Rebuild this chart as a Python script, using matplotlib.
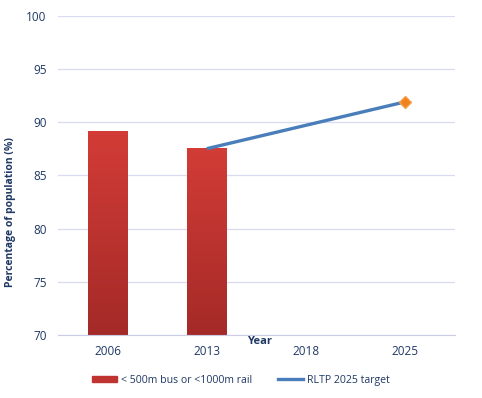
import numpy as np
import matplotlib.pyplot as plt
from matplotlib.patches import Patch
from matplotlib.lines import Line2D
from matplotlib.colors import LinearSegmentedColormap

years = ["2006", "2013", "2018", "2025"]
coverage = [89.2, 87.6, np.nan, np.nan]
target = [np.nan, 87.5, 89.7, 91.9]

navy = "#1f3864"
plt.rcParams["font.family"] = ["Open Sans", "DejaVu Sans"]

fig = plt.figure(figsize=(4.82, 3.98), dpi=100)
ax = fig.add_axes([0.120, 0.158, 0.824, 0.803])

x = np.arange(len(years))
ymin, ymax = 70, 100

# bars with a vertical gradient (dark at the bottom)
grad = np.linspace(0, 1, 256).reshape(-1, 1)
cmap = LinearSegmentedColormap.from_list("bar", ["#a42a27", "#d33c37"])
bars = ax.bar(x, coverage, width=0.4, bottom=0, color="none", zorder=2)
for b, v in zip(bars, coverage):
    if np.isnan(v):
        continue
    x0 = b.get_x()
    im = ax.imshow(grad, cmap=cmap, aspect="auto", origin="lower",
                   extent=[x0, x0 + b.get_width(), ymin, v], zorder=2)
    im.set_clip_path(b)

ax.plot(x, target, color="#4a7ebb", lw=2.4, zorder=3, solid_capstyle="butt")
ax.plot(x[-1], target[-1], marker="D", ms=6, color="#f0821e",
        markeredgecolor="#f5a04a", zorder=4)

ax.set_xlim(-0.5, 3.5)
ax.set_ylim(ymin, ymax)
ax.set_yticks(range(70, 101, 5))
ax.set_xticks(x)
ax.set_xticklabels(years)
ax.grid(axis="y", color="#d9dcef", lw=0.9, zorder=0)
ax.set_axisbelow(True)
for s in ["top", "right", "left"]:
    ax.spines[s].set_visible(False)
ax.spines["bottom"].set_color("#c9cde6")
ax.tick_params(length=0, colors=navy, labelsize=8.5)
ax.tick_params(axis="x", pad=7)
ax.tick_params(axis="y", pad=8)

ax.set_ylabel("Percentage of population (%)", color=navy, fontsize=7.5,
              fontweight="bold")
ax.yaxis.set_label_coords(-0.105, 0.385)
ax.text(0.509, -0.002, "Year", transform=ax.transAxes, ha="center", va="top",
        color=navy, fontsize=8, fontweight="bold")

handles = [Patch(color="#bf3330", label="< 500m bus or <1000m rail"),
           Line2D([0], [0], color="#4a7ebb", lw=2.4, label="RLTP 2025 target")]
fig.legend(handles=handles, loc="center", bbox_to_anchor=(0.5, 0.045),
           ncol=2, frameon=False, fontsize=7.6, labelcolor=navy,
           handlelength=2.3, handleheight=0.6, columnspacing=2.5, handletextpad=0.4)

fig.savefig("out.png", dpi=100)
